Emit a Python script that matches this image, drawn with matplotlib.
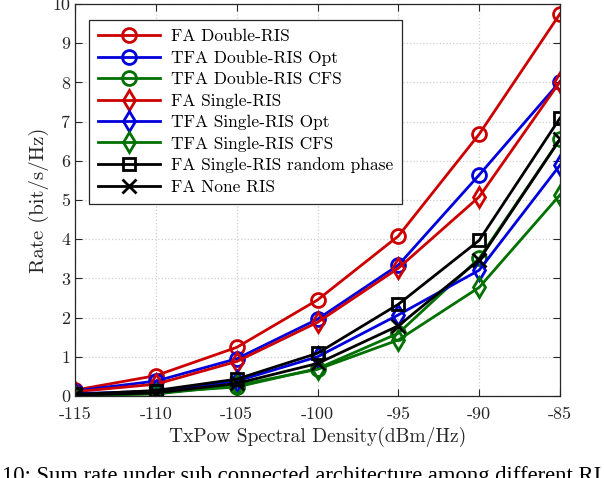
import numpy as np
import matplotlib
matplotlib.use("Agg")
import matplotlib.pyplot as plt

# tx power spectral density (dBm/Hz)
txpow = [-115, -110, -105, -100, -95, -90, -85]

fa_double = [0.15, 0.52, 1.24, 2.45, 4.08, 6.68, 9.75]
tfa_double_opt = [0.13, 0.38, 0.95, 1.96, 3.34, 5.64, 8.02]
tfa_double_cfs = [0.04, 0.09, 0.23, 0.70, 1.60, 3.51, 6.55]
fa_single = [0.11, 0.30, 0.88, 1.88, 3.26, 5.08, 8.02]
tfa_single_opt = [0.06, 0.12, 0.38, 1.00, 2.07, 3.21, 5.89]
tfa_single_cfs = [0.01, 0.05, 0.27, 0.68, 1.43, 2.77, 5.13]
fa_random = [0.04, 0.14, 0.43, 1.09, 2.34, 3.97, 7.09]
fa_none = [0.02, 0.08, 0.32, 0.83, 1.79, 3.47, 6.55]

red = '#cc0000'
blue = '#0000dd'
green = '#007000'

series = [
    ('FA Double-RIS', fa_double, red, 'o'),
    ('TFA Double-RIS Opt', tfa_double_opt, blue, 'o'),
    ('TFA Double-RIS CFS', tfa_double_cfs, green, 'o'),
    ('FA Single-RIS', fa_single, red, 'd'),
    ('TFA Single-RIS Opt', tfa_single_opt, blue, 'd'),
    ('TFA Single-RIS CFS', tfa_single_cfs, green, 'd'),
    ('FA Single-RIS random phase', fa_random, 'k', 's'),
    ('FA None RIS', fa_none, 'k', 'x'),
]

plt.rcParams['font.family'] = ['cmr10', 'DejaVu Serif']
plt.rcParams['axes.unicode_minus'] = False

fig = plt.figure(figsize=(6.04, 4.78), dpi=100)
ax = fig.add_axes([75/604, 82/478, 485/604, 392/478])

for name, vals, col, mk in series:
    ms = 8 if mk == 's' else 10
    ax.plot(txpow, vals, color=col, marker=mk, markersize=ms,
            markerfacecolor='none', markeredgewidth=2, linewidth=2,
            label=name)

ax.set_xlim(-115, -85)
ax.set_ylim(0, 10)
ax.set_xticks(txpow)
ax.set_xticklabels([str(t) for t in txpow])
ax.set_yticks(range(11))
ax.set_yticklabels([str(t) for t in range(11)])
ax.tick_params(direction='in', top=True, right=True, labelsize=13,
               colors='#262626', length=5, width=0.8)
ax.tick_params(axis='x', pad=8)
ax.grid(True, linestyle=':', color='#cfcfcf', linewidth=0.9)
for sp in ax.spines.values():
    sp.set_color('#262626')
    sp.set_linewidth(0.9)

ax.set_xlabel('TxPow Spectral Density(dBm/Hz)', fontsize=14, color='#262626',
              labelpad=3)
ax.set_ylabel('Rate (bit/s/Hz)', fontsize=15, color='#262626', labelpad=2)

leg = ax.legend(loc='upper left', bbox_to_anchor=(14/485, 376/392), fontsize=12.5,
                fancybox=False, framealpha=1, edgecolor='#262626',
                handlelength=3.6, labelspacing=0.35, borderpad=0.5,
                handletextpad=0.6, borderaxespad=0)
leg.get_frame().set_linewidth(0.9)

fig.text(2/604, 12/478, '10: Sum rate under sub connected architecture among different RI',
         fontsize=16.3, family='Liberation Serif', va='top', ha='left')

fig.savefig('out.png', dpi=100)
